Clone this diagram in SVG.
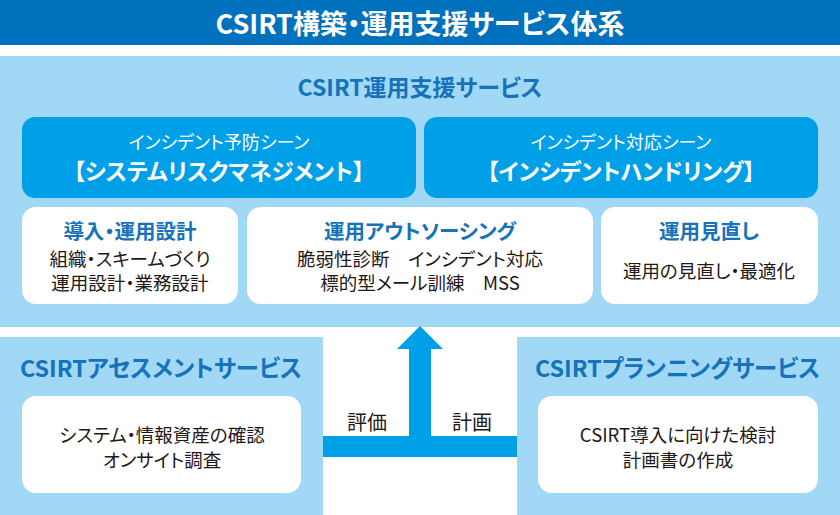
<svg xmlns="http://www.w3.org/2000/svg" width="840" height="515" viewBox="0 0 840 515">
<style>
text{font-family:"Noto Sans CJK JP","Noto Sans",sans-serif;text-anchor:middle;font-feature-settings:"palt"}
.panel{fill:#A0D8F6}
.scene{fill:#00A0E9}
.card{fill:#FFFFFF}
.h{font-weight:bold;fill:#1672BA}
.b{fill:#231815;font-size:18.5px;font-weight:normal}
.w{fill:#FFFFFF}
</style>
<rect x="0" y="0" width="840" height="515" fill="#FFFFFF"/>
<g id="title">
<rect x="0" y="0" width="840" height="45" fill="#0071BC"/>
<text x="420" y="34" class="w" font-size="27" font-weight="bold">CSIRT構築・運用支援サービス体系</text>
</g>
<g id="operation-service">
<rect class="panel" x="0" y="56" width="840" height="271"/>
<text x="420" y="96" class="h" font-size="23">CSIRT運用支援サービス</text>
</g>
<g id="prevention-scene">
<rect class="scene" x="22" y="117" width="394" height="81" rx="13"/>
<text x="219" y="149" class="w" font-size="18">インシデント予防シーン</text>
<text x="219" y="180" class="w" font-size="22.5" font-weight="bold">【システムリスクマネジメント】</text>
</g>
<g id="response-scene">
<rect class="scene" x="424" y="117" width="394" height="81" rx="13"/>
<text x="621" y="149" class="w" font-size="18">インシデント対応シーン</text>
<text x="621" y="180" class="w" font-size="22.5" font-weight="bold">【インシデントハンドリング】</text>
</g>
<g id="design">
<rect class="card" x="22" y="207" width="216" height="97" rx="14"/>
<text x="130" y="239" class="h" font-size="20.5">導入・運用設計</text>
<text x="130" y="266" class="b">組織・スキームづくり</text>
<text x="130" y="290" class="b">運用設計・業務設計</text>
</g>
<g id="outsourcing">
<rect class="card" x="247" y="207" width="346" height="97" rx="14"/>
<text x="420" y="239" class="h" font-size="20.5">運用アウトソーシング</text>
<text x="420" y="266" class="b">脆弱性診断　インシデント対応</text>
<text x="420" y="290" class="b">標的型メール訓練　MSS</text>
</g>
<g id="review">
<rect class="card" x="601" y="207" width="217" height="97" rx="14"/>
<text x="709" y="239" class="h" font-size="20.5">運用見直し</text>
<text x="709" y="278" class="b">運用の見直し・最適化</text>
</g>
<g id="assessment-service">
<rect class="panel" x="0" y="337" width="323" height="178"/>
<text x="20" y="377" class="h" font-size="23.3" style="text-anchor:start">CSIRTアセスメントサービス</text>
<rect class="card" x="22" y="396" width="279" height="97" rx="14"/>
<text x="162" y="442" class="b">システム・情報資産の確認</text>
<text x="162" y="467" class="b">オンサイト調査</text>
</g>
<g id="planning-service">
<rect class="panel" x="517" y="337" width="323" height="178"/>
<text x="535" y="377" class="h" font-size="23.3" style="text-anchor:start">CSIRTプランニングサービス</text>
<rect class="card" x="538" y="396" width="280" height="97" rx="14"/>
<text x="678" y="442" class="b">CSIRT導入に向けた検討</text>
<text x="678" y="467" class="b">計画書の作成</text>
</g>
<g id="connectors">
<path d="M323 436 H409 V349 H397 L420 326 L443 349 H431 V436 H517 V457 H323 Z" fill="#00A0E9"/>
<text x="367" y="430" class="b" style="font-size:20px">評価</text>
<text x="472" y="430" class="b" style="font-size:20px">計画</text>
</g>
</svg>
